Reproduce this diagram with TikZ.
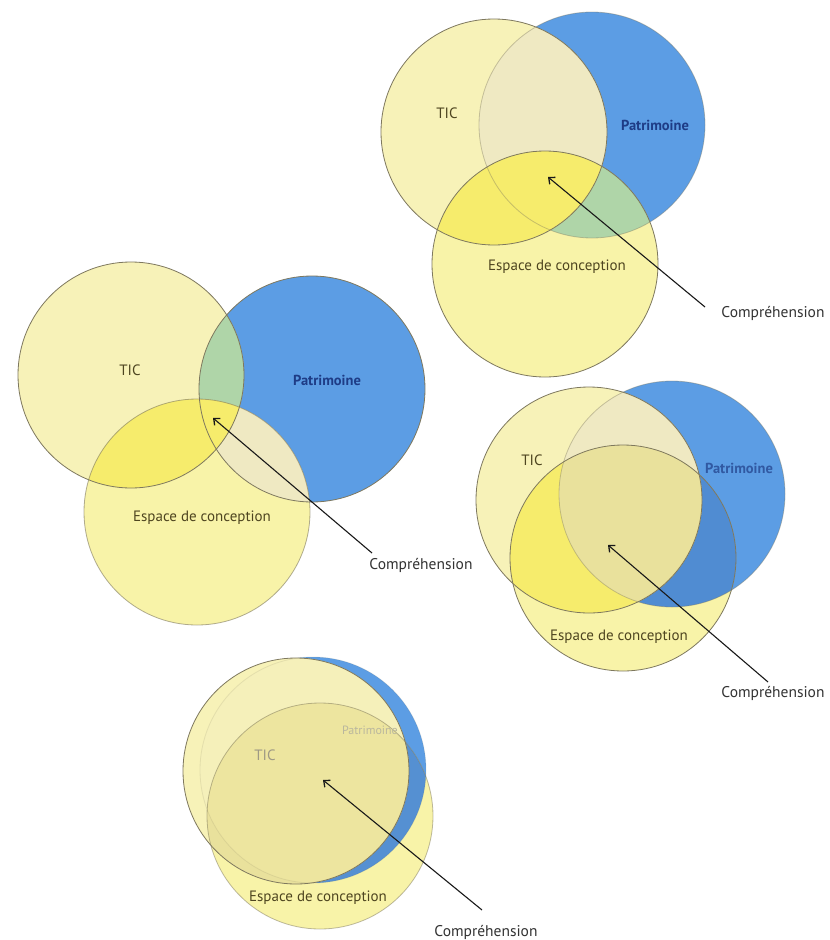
\documentclass[tikz,border=0pt]{standalone}
\usepackage{fontspec}
\setmainfont{PT Sans}
\usetikzlibrary{arrows.meta}
\definecolor{edge}{HTML}{7E785E}
\definecolor{ticy}{HTML}{F7F2B8}
\definecolor{espy}{HTML}{F8F3A8}
\definecolor{patb}{HTML}{5C9DE4}
\definecolor{brighty}{HTML}{F6EC6C}
\definecolor{greenov}{HTML}{AFD5A8}
\definecolor{beige}{HTML}{EFE9C2}
\definecolor{khaki}{HTML}{E9E19C}
\definecolor{darkb}{HTML}{508CD2}
\definecolor{txtol}{HTML}{4E4520}
\definecolor{txtblue}{HTML}{1E3C86}
\newcommand{\RR}{113}
\newcommand{\vennregions}[3]{%
  \fill[patb] (#2) circle[radius=\RR];
  \fill[ticy] (#1) circle[radius=\RR];
  \fill[espy] (#3) circle[radius=\RR];
  \begin{scope}
    \clip (#2) circle[radius=\RR];
    \fill[cPE] (#3) circle[radius=\RR];
  \end{scope}
  \begin{scope}
    \clip (#1) circle[radius=\RR];
    \fill[cTP] (#2) circle[radius=\RR];
    \fill[cTE] (#3) circle[radius=\RR];
    \clip (#2) circle[radius=\RR];
    \fill[cTPE] (#3) circle[radius=\RR];
  \end{scope}}
\begin{document}
\begin{tikzpicture}[x=1pt,y=-1pt,
  ring/.style={circle, draw=edge, line width=0.8pt, minimum size=226pt, inner sep=0pt},
  lab/.style={font=\fontsize{15}{17}\selectfont, text=txtol, inner sep=0pt},
  patlab/.style={font=\fontsize{14.5}{17}\selectfont\bfseries, text=txtblue, inner sep=0pt},
  complab/.style={font=\fontsize{15.5}{17}\selectfont, text=black!80, inner sep=0pt},
  arr/.style={draw=black!90, line width=1.1pt, -{Straight Barb[length=5pt,width=9pt,line width=1.3pt]}}]
\useasboundingbox (0,0) rectangle (830,940);
\fill[white] (0,0) rectangle (830,940);

% ---------- Diagram 1 (top right)
\coordinate (d1Tc) at (494,132);
\coordinate (d1Pc) at (592,125);
\coordinate (d1Ec) at (545,264);
\colorlet{cTP}{beige}\colorlet{cTE}{brighty}\colorlet{cPE}{greenov}\colorlet{cTPE}{brighty}
\vennregions{d1Tc}{d1Pc}{d1Ec}
\node[ring, draw opacity=0.4] (d1P) at (d1Pc) {};
\node[ring] (d1T) at (d1Tc) {};
\node[ring] (d1E) at (d1Ec) {};
\node[lab] (d1tic) at (447,113) {TIC};
\node[patlab] (d1pat) at (655,125) {Patrimoine};
\node[lab] (d1esp) at (557,267) {Espace de conception};
\node[complab] (d1comp) at (773,313) {Compréhension};
\coordinate (d1tail) at (705,307);
\coordinate (d1tip) at (548,177);
\draw[arr] (d1tail) -- (d1tip);

% ---------- Diagram 2 (middle left)
\coordinate (d2Tc) at (131,375);
\coordinate (d2Pc) at (312,389);
\coordinate (d2Ec) at (197,512);
\colorlet{cTP}{greenov}\colorlet{cTE}{brighty}\colorlet{cPE}{beige}\colorlet{cTPE}{brighty}
\vennregions{d2Tc}{d2Pc}{d2Ec}
\node[ring] (d2P) at (d2Pc) {};
\node[ring] (d2T) at (d2Tc) {};
\node[ring, draw opacity=0.6] (d2E) at (d2Ec) {};
\node[lab] (d2tic) at (130,370) {TIC};
\node[patlab] (d2pat) at (327,380) {Patrimoine};
\node[lab] (d2esp) at (202,518) {Espace de conception};
\node[complab] (d2comp) at (421,565) {Compréhension};
\coordinate (d2tail) at (372,553);
\coordinate (d2tip) at (213,418);
\draw[arr] (d2tail) -- (d2tip);

% ---------- Diagram 3 (middle right)
\coordinate (d3Tc) at (589,500);
\coordinate (d3Pc) at (672,494);
\coordinate (d3Ec) at (623,558);
\colorlet{cTP}{beige}\colorlet{cTE}{brighty}\colorlet{cPE}{darkb}\colorlet{cTPE}{khaki}
\vennregions{d3Tc}{d3Pc}{d3Ec}
\node[ring, draw opacity=0.4] (d3P) at (d3Pc) {};
\node[ring] (d3T) at (d3Tc) {};
\node[ring] (d3E) at (d3Ec) {};
\node[lab] (d3tic) at (532,460) {TIC};
\node[patlab, text=txtblue!70!patb] (d3pat) at (739,468) {Patrimoine};
\node[lab] (d3esp) at (619,637) {Espace de conception};
\node[complab] (d3comp) at (773,693) {Compréhension};
\coordinate (d3tail) at (768,682);
\coordinate (d3tip) at (608,545);
\draw[arr] (d3tail) -- (d3tip);

% ---------- Diagram 4 (bottom)
\coordinate (d4Tc) at (296,771);
\coordinate (d4Pc) at (313,770);
\coordinate (d4Ec) at (320,816);
\colorlet{cTP}{ticy!80!beige}\colorlet{cTE}{khaki}\colorlet{cPE}{patb!92!black}\colorlet{cTPE}{khaki!75!espy}
\vennregions{d4Tc}{d4Pc}{d4Ec}
\node[ring, draw opacity=0.15] (d4P) at (d4Pc) {};
\node[ring] (d4T) at (d4Tc) {};
\node[ring, draw opacity=0.5] (d4E) at (d4Ec) {};
\node[lab, text=txtol!55] (d4tic) at (265,755) {TIC};
\node[patlab, text=khaki!60!black!60, font=\fontsize{12}{14}\selectfont] (d4pat) at (370,730) {Patrimoine};
\node[lab] (d4esp) at (318,898) {Espace de conception};
\node[complab] (d4comp) at (486,932) {Compréhension};
\coordinate (d4tail) at (482,910);
\coordinate (d4tip) at (323,780);
\draw[arr] (d4tail) -- (d4tip);
\end{tikzpicture}
\end{document}
